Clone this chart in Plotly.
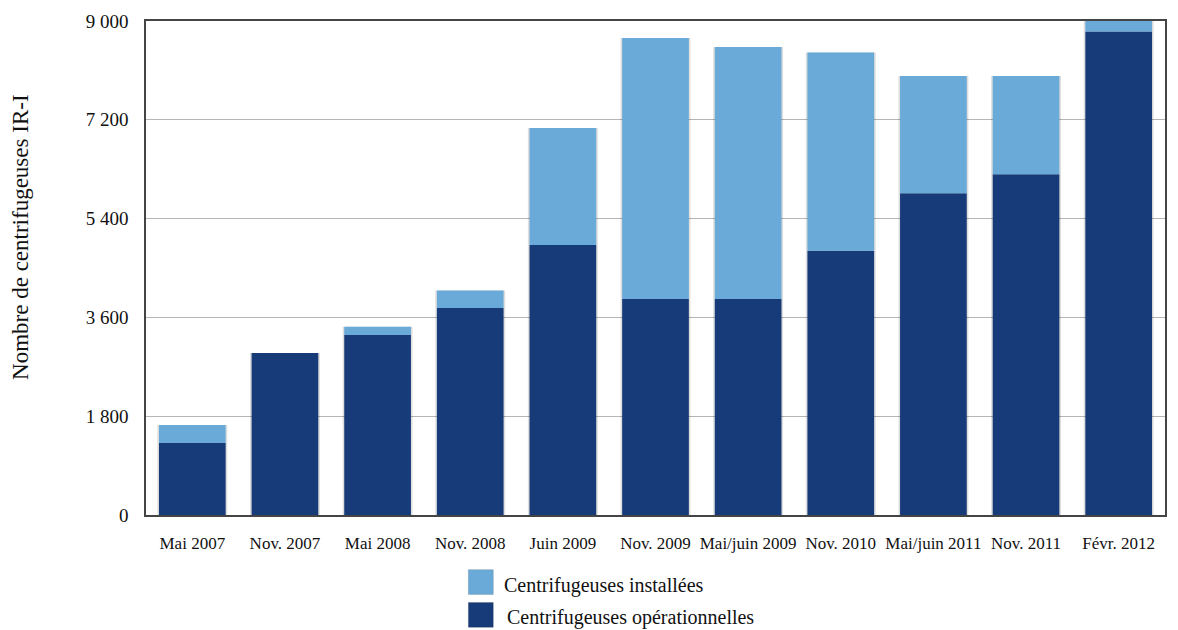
import plotly.graph_objects as go

# Centrifuges IR-1 : installed (total) vs operating, per IAEA report date
categories = ["Mai 2007", "Nov. 2007", "Mai 2008", "Nov. 2008", "Juin 2009",
              "Nov. 2009", "Mai/juin 2009", "Nov. 2010", "Mai/juin 2011",
              "Nov. 2011", "Févr. 2012"]
operationnelles = [1312, 2952, 3280, 3770, 4920, 3936, 3936, 4816, 5860, 6208, 8808]
installees = [1640, 2952, 3430, 4090, 7052, 8692, 8528, 8426, 8000, 8000, 9000]
y_ticks = [0, 1800, 3600, 5400, 7200, 9000]

name_installees = "Centrifugeuses installées"
name_operationnelles = "Centrifugeuses opérationnelles"
y_title = "Nombre de centrifugeuses IR-I"

DARK = "#173A78"
LIGHT = "#6AAAD8"
FONT = "Liberation Serif, Times New Roman, serif"

W, H = 1178, 630
M_L, M_R, M_T, M_B = 146, 11, 18, 115
plot_w = W - M_L - M_R
plot_h = H - M_T - M_B


def px_x(x):
    return (x - M_L) / plot_w


def px_y(y):
    return (H - M_B - y) / plot_h


extra = [t - o for t, o in zip(installees, operationnelles)]
bar_w = 0.72

fig = go.Figure()

# soft halo behind every bar
fig.add_trace(go.Bar(
    x=categories, y=installees, base=0, width=bar_w + 0.035,
    marker=dict(color="rgba(0,0,0,0.13)", line=dict(width=0)),
    hoverinfo="skip", showlegend=False,
))
fig.add_trace(go.Bar(
    x=categories, y=operationnelles, base=0, width=bar_w,
    name=name_operationnelles,
    marker=dict(color=DARK, line=dict(width=0)),
    showlegend=False,
))
fig.add_trace(go.Bar(
    x=categories, y=extra, base=operationnelles, width=bar_w,
    name=name_installees,
    marker=dict(color=LIGHT, line=dict(width=0)),
    showlegend=False,
))

# legend drawn as swatches + labels
legend_items = [
    (LIGHT, name_installees, 570, 595, 503, 586),
    (DARK, name_operationnelles, 603, 628, 506, 618),
]
shapes = []
annotations = []
for color, label, y0, y1, tx, ty in legend_items:
    shapes.append(dict(
        type="rect", xref="paper", yref="paper",
        x0=px_x(469), x1=px_x(494), y0=px_y(y1), y1=px_y(y0),
        fillcolor=color, line=dict(color="rgba(0,0,0,0.12)", width=1),
    ))
    annotations.append(dict(
        xref="paper", yref="paper", x=px_x(tx), y=px_y(ty),
        xanchor="left", yanchor="middle", showarrow=False,
        text=label, font=dict(family=FONT, size=20, color="#111"),
    ))

annotations.append(dict(
    xref="paper", yref="paper", x=px_x(20), y=px_y(236),
    xanchor="center", yanchor="middle", showarrow=False, textangle=-90,
    text=y_title, font=dict(family=FONT, size=23, color="#111"),
))

fig.update_layout(
    width=W, height=H,
    margin=dict(l=M_L, r=M_R, t=M_T, b=M_B, pad=0),
    paper_bgcolor="white", plot_bgcolor="white",
    barmode="overlay", bargap=0.28,
    separators=", ",
    font=dict(family=FONT, color="#111"),
    shapes=shapes, annotations=annotations,
    showlegend=False,
)
fig.update_xaxes(
    type="category", showgrid=False, ticks="",
    showline=True, linecolor="#444", linewidth=1.5, mirror=True,
    tickfont=dict(family=FONT, size=17, color="#111"),
    ticklabelstandoff=12,
)
fig.update_yaxes(
    range=[0, 9000], tickvals=y_ticks, tickformat=",d",
    showgrid=True, gridcolor="#b5b5b5", gridwidth=1.3,
    showline=True, linecolor="#444", linewidth=1.5, mirror=True,
    ticks="", zeroline=False,
    tickfont=dict(family=FONT, size=19, color="#111"),
    ticklabelstandoff=12,
)

fig.write_html("out.html")
